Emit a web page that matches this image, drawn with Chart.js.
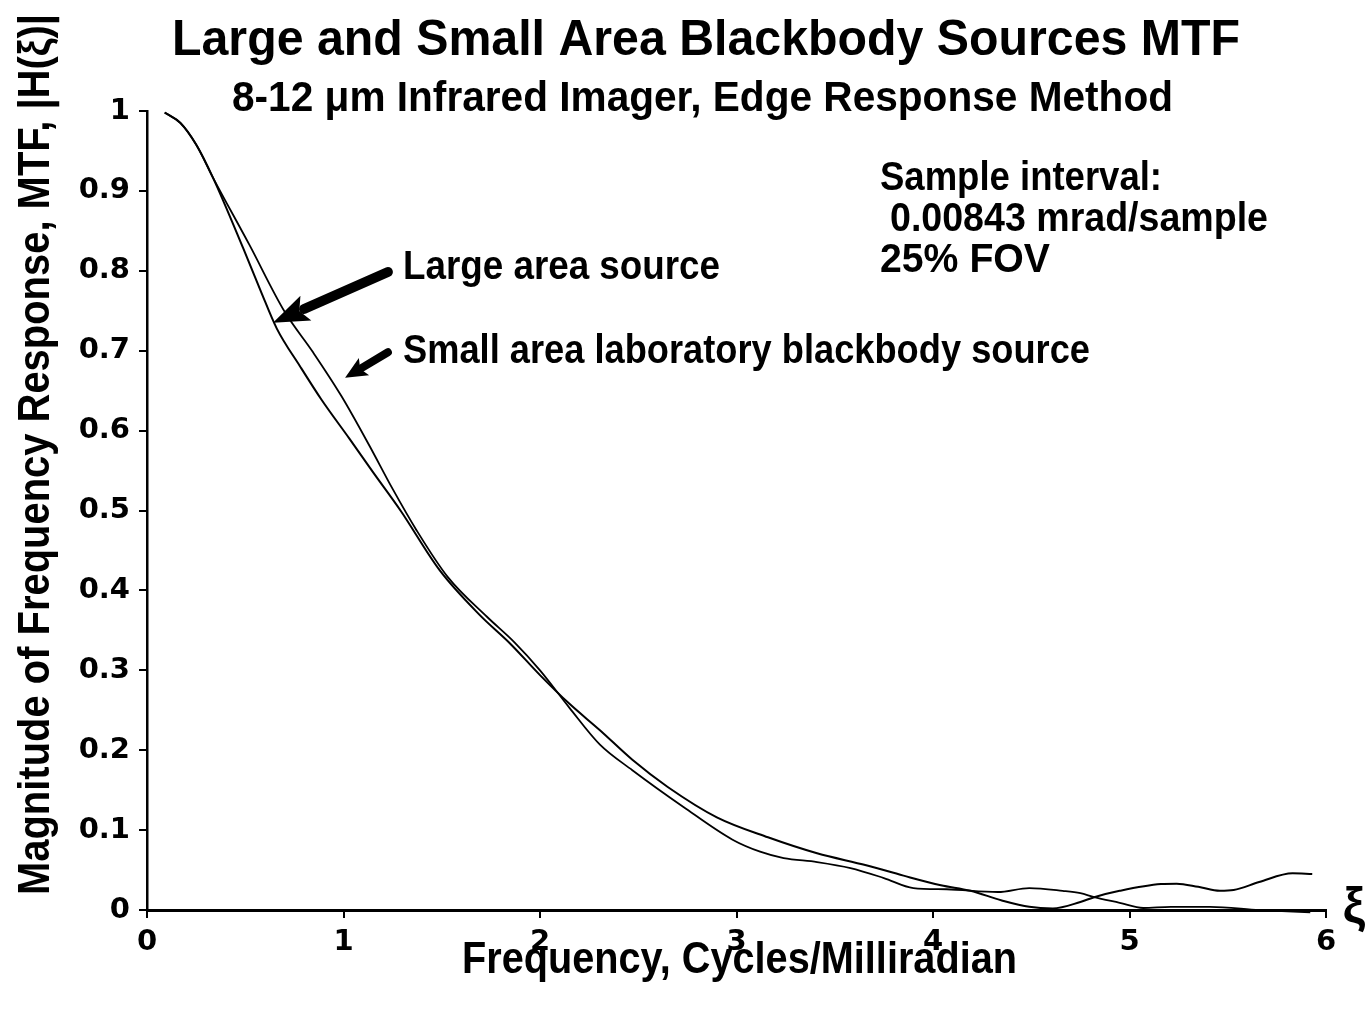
<!DOCTYPE html>
<html>
<head>
<meta charset="utf-8">
<script src="https://cdn.jsdelivr.net/npm/chart.js@4"></script>
<style>
  body { margin: 0; background: #fff; }
  #wrap { width: 1371px; height: 1010px; }
</style>
</head>
<body>
<div id="wrap"><canvas id="mtfChart" width="1371" height="1010"></canvas></div>
<script>
// MTF curves (frequency in cycles/mrad, MTF magnitude)
var freqLarge = [0.09, 0.17, 0.25, 0.335, 0.49, 0.58, 0.66, 0.78, 0.89, 1.03, 1.15, 1.29, 1.49, 1.69, 1.85, 2.0,
                 2.15, 2.305, 2.47, 2.65, 2.9, 3.16, 3.41, 3.66, 3.85, 4.04, 4.19, 4.35, 4.49, 4.61, 4.75, 4.82,
                 4.95, 5.16, 5.24, 5.35, 5.46, 5.53, 5.66, 5.83, 5.93];
var mtfLarge  = [0.998, 0.985, 0.958, 0.917, 0.828, 0.774, 0.728, 0.680, 0.638, 0.59, 0.548, 0.50, 0.425, 0.37, 0.333, 0.294,
                 0.258, 0.225, 0.188, 0.154, 0.116, 0.091, 0.071, 0.056, 0.043, 0.031, 0.024, 0.012, 0.004, 0.002, 0.01, 0.016,
                 0.024, 0.0325, 0.033, 0.029, 0.024, 0.025, 0.035, 0.046, 0.045];

var freqSmall = [0.09, 0.17, 0.25, 0.335, 0.52, 0.70, 0.845, 0.99, 1.13, 1.25, 1.37, 1.53, 1.73, 1.87, 2.0,
                 2.15, 2.305, 2.47, 2.73, 2.98, 3.12, 3.24, 3.41, 3.58, 3.75, 3.90, 4.07, 4.33, 4.49, 4.66, 4.75,
                 4.82, 4.95, 5.07, 5.21, 5.41, 5.66, 5.92];
var mtfSmall  = [0.998, 0.985, 0.958, 0.917, 0.833, 0.749, 0.698, 0.643, 0.582, 0.527, 0.476, 0.417, 0.367, 0.335, 0.30,
                 0.253, 0.207, 0.175, 0.129, 0.088, 0.073, 0.065, 0.06, 0.0525, 0.04, 0.0275, 0.026, 0.0225, 0.0275, 0.024, 0.021,
                 0.016, 0.009, 0.0025, 0.004, 0.004, 0.0, -0.003];

var xMin = 0, xMax = 6, xStep = 1;
var yMin = 0, yMax = 1, yStep = 0.1;

var FONT = '"Liberation Sans", Arial, sans-serif';

function toPoints(xs, ys) {
  var pts = [];
  for (var i = 0; i < xs.length; i++) pts.push({ x: xs[i], y: ys[i] });
  return pts;
}

// draw text squeezed/stretched to a given width (left edge at x, baseline at y)
function fitText(ctx, str, x, y, size, w) {
  ctx.font = 'bold ' + size + 'px ' + FONT;
  var nat = ctx.measureText(str).width;
  ctx.save();
  ctx.translate(x, y);
  ctx.scale(w / nat, 1);
  ctx.textAlign = 'left';
  ctx.textBaseline = 'alphabetic';
  ctx.fillText(str, 0, 0);
  ctx.restore();
}

function arrow(ctx, x0, y0, x1, y1, shaft, headLen, headW) {
  var a = Math.atan2(y1 - y0, x1 - x0);
  var len = Math.hypot(x1 - x0, y1 - y0);
  ctx.save();
  ctx.translate(x0, y0);
  ctx.rotate(a);
  ctx.lineCap = 'round';
  ctx.lineWidth = shaft;
  ctx.beginPath();
  ctx.moveTo(0, 0);
  ctx.lineTo(len - headLen + 2, 0);
  ctx.stroke();
  ctx.beginPath();
  ctx.moveTo(len, 0);
  ctx.lineTo(len - headLen, -headW / 2);
  ctx.lineTo(len - headLen * 0.8, 0);
  ctx.lineTo(len - headLen, headW / 2);
  ctx.closePath();
  ctx.fill();
  ctx.restore();
}

var textPlugin = {
  id: 'textPlugin',
  afterDraw: function (chart) {
    var ctx = chart.ctx;
    var xs = chart.scales.x, ys = chart.scales.y;
    ctx.save();
    ctx.fillStyle = '#000';
    ctx.strokeStyle = '#000';

    fitText(ctx, 'Large and Small Area Blackbody Sources MTF', 172, 55, 50, 1068);
    fitText(ctx, '8-12 \u03bcm Infrared Imager, Edge Response Method', 232, 111, 42, 941);

    fitText(ctx, 'Frequency, Cycles/Milliradian', 462, 973, 44, 555);

    ctx.save();
    ctx.translate(49, 895);
    ctx.rotate(-Math.PI / 2);
    fitText(ctx, 'Magnitude of Frequency Response, MTF, |H(\u03be)|', 0, 0, 44, 881);
    ctx.restore();

    fitText(ctx, 'Sample interval:', 880, 190, 40, 282);
    fitText(ctx, '0.00843 mrad/sample', 890, 231, 40, 378);
    fitText(ctx, '25% FOV', 880, 272, 40, 170);

    fitText(ctx, 'Large area source', 403, 279, 41, 317);
    fitText(ctx, 'Small area laboratory blackbody source', 403, 363, 41, 687);

    ctx.font = 'bold 50px ' + FONT;
    ctx.textAlign = 'center';
    ctx.fillText('\u03be', 1354, 922);

    // pointer arrows
    arrow(ctx, xs.getPixelForValue(1.226), ys.getPixelForValue(0.7985),
               xs.getPixelForValue(0.641), ys.getPixelForValue(0.735), 10, 36, 27);
    arrow(ctx, xs.getPixelForValue(1.226), ys.getPixelForValue(0.698),
               xs.getPixelForValue(1.008), ys.getPixelForValue(0.666), 8, 22, 20);
    ctx.restore();
  }
};

function tickText(v) {
  return String(Math.round(v * 10) / 10);
}

new Chart(document.getElementById('mtfChart'), {
  type: 'scatter',
  data: {
    datasets: [
      {
        label: 'Large area source',
        data: toPoints(freqLarge, mtfLarge),
        showLine: true,
        borderColor: '#000',
        borderWidth: 2,
        pointRadius: 0,
        cubicInterpolationMode: 'monotone',
        clip: false
      },
      {
        label: 'Small area laboratory blackbody source',
        data: toPoints(freqSmall, mtfSmall),
        showLine: true,
        borderColor: '#000',
        borderWidth: 1.8,
        pointRadius: 0,
        cubicInterpolationMode: 'monotone',
        clip: false
      }
    ]
  },
  options: {
    responsive: false,
    animation: false,
    devicePixelRatio: 1,
    layout: { padding: { top: 111, right: 45, left: 0, bottom: 0 } },
    plugins: {
      legend: { display: false },
      title: { display: false },
      tooltip: { enabled: false }
    },
    scales: {
      x: {
        type: 'linear',
        min: xMin, max: xMax,
        afterFit: function (s) { s.height = 100; },
        ticks: {
          stepSize: xStep,
          color: '#000',
          padding: 7,
          callback: tickText,
          font: { family: '"DejaVu Sans"', size: 29, weight: 'bold' }
        },
        grid: { drawOnChartArea: false, drawTicks: true, tickLength: 8, color: '#000', lineWidth: 2 },
        border: { display: true, color: '#000', width: 3 }
      },
      y: {
        type: 'linear',
        min: yMin, max: yMax,
        afterFit: function (s) { s.width = 147; },
        ticks: {
          stepSize: yStep,
          color: '#000',
          padding: 9,
          callback: tickText,
          font: { family: '"DejaVu Sans"', size: 29, weight: 'bold' }
        },
        grid: { drawOnChartArea: false, drawTicks: true, tickLength: 8, color: '#000', lineWidth: 2 },
        border: { display: true, color: '#000', width: 2.5 }
      }
    }
  },
  plugins: [textPlugin]
});
</script>
</body>
</html>
